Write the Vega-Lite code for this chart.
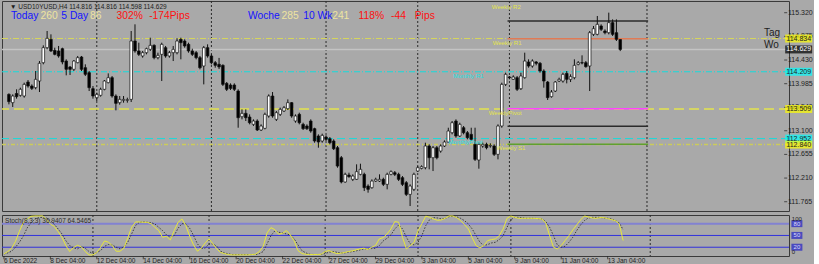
{
"$schema": "https://vega.github.io/schema/vega-lite/v6.json",
"background": "#a9a9a9",
"padding": 0,
"spacing": 1,
"config": {"view": {"stroke": "#3a3a3a", "strokeWidth": 1}, "text": {"font": "Liberation Sans"}},
"resolve": {"scale": {"x": "independent", "y": "independent"}},
"datasets": {
"candles": [
{"i":0,"o":113.784,"h":113.803,"l":113.596,"c":113.647},
{"i":1,"o":113.628,"h":113.784,"l":113.546,"c":113.753},
{"i":2,"o":113.800,"h":113.879,"l":113.703,"c":113.741},
{"i":3,"o":113.766,"h":113.910,"l":113.741,"c":113.879},
{"i":4,"o":113.753,"h":114.004,"l":113.722,"c":113.972},
{"i":5,"o":114.016,"h":114.054,"l":113.910,"c":113.941},
{"i":6,"o":113.941,"h":113.972,"l":113.866,"c":113.897},
{"i":7,"o":113.910,"h":114.223,"l":113.879,"c":114.067},
{"i":8,"o":114.035,"h":114.411,"l":113.828,"c":114.368},
{"i":9,"o":114.380,"h":114.706,"l":114.349,"c":114.662},
{"i":10,"o":114.662,"h":114.976,"l":114.631,"c":114.838},
{"i":11,"o":114.819,"h":114.913,"l":114.581,"c":114.600},
{"i":12,"o":114.612,"h":114.662,"l":114.518,"c":114.537},
{"i":13,"o":114.600,"h":114.694,"l":114.474,"c":114.506},
{"i":14,"o":114.643,"h":114.662,"l":114.349,"c":114.393},
{"i":15,"o":114.411,"h":114.443,"l":114.142,"c":114.255},
{"i":16,"o":114.299,"h":114.317,"l":114.148,"c":114.255},
{"i":17,"o":114.255,"h":114.430,"l":114.223,"c":114.411},
{"i":18,"o":114.380,"h":114.506,"l":114.368,"c":114.474},
{"i":19,"o":114.487,"h":114.506,"l":114.223,"c":114.255},
{"i":20,"o":114.286,"h":114.349,"l":114.129,"c":114.161},
{"i":21,"o":114.192,"h":114.223,"l":113.847,"c":113.910},
{"i":22,"o":113.891,"h":113.941,"l":113.703,"c":113.753},
{"i":23,"o":113.722,"h":113.816,"l":113.659,"c":113.784},
{"i":24,"o":113.766,"h":113.910,"l":113.741,"c":113.879},
{"i":25,"o":113.879,"h":114.054,"l":113.860,"c":114.035},
{"i":26,"o":114.004,"h":114.179,"l":113.991,"c":114.098},
{"i":27,"o":114.098,"h":114.129,"l":113.722,"c":113.753},
{"i":28,"o":113.753,"h":113.784,"l":113.483,"c":113.615},
{"i":29,"o":113.628,"h":113.753,"l":113.590,"c":113.690},
{"i":30,"o":113.672,"h":113.753,"l":113.628,"c":113.690},
{"i":31,"o":113.672,"h":113.722,"l":113.628,"c":113.684},
{"i":32,"o":113.690,"h":114.976,"l":113.640,"c":114.788},
{"i":33,"o":114.788,"h":115.101,"l":114.568,"c":114.600},
{"i":34,"o":114.600,"h":114.756,"l":114.506,"c":114.537},
{"i":35,"o":114.506,"h":114.600,"l":114.474,"c":114.568},
{"i":36,"o":114.568,"h":114.662,"l":114.537,"c":114.643},
{"i":37,"o":114.631,"h":114.850,"l":114.600,"c":114.706},
{"i":38,"o":114.706,"h":114.725,"l":114.443,"c":114.474},
{"i":39,"o":114.474,"h":114.568,"l":114.443,"c":114.518},
{"i":40,"o":114.537,"h":114.756,"l":114.035,"c":114.725},
{"i":41,"o":114.662,"h":114.694,"l":114.474,"c":114.506},
{"i":42,"o":114.506,"h":114.600,"l":114.474,"c":114.568},
{"i":43,"o":114.568,"h":114.694,"l":114.411,"c":114.631},
{"i":44,"o":114.568,"h":114.838,"l":114.537,"c":114.788},
{"i":45,"o":114.819,"h":114.850,"l":114.443,"c":114.756},
{"i":46,"o":114.788,"h":114.819,"l":114.662,"c":114.694},
{"i":47,"o":114.725,"h":114.756,"l":114.568,"c":114.600},
{"i":48,"o":114.600,"h":114.643,"l":114.506,"c":114.537},
{"i":49,"o":114.568,"h":114.600,"l":114.443,"c":114.474},
{"i":50,"o":114.474,"h":114.506,"l":114.255,"c":114.286},
{"i":51,"o":114.317,"h":114.694,"l":113.972,"c":114.662},
{"i":52,"o":114.662,"h":114.725,"l":114.474,"c":114.506},
{"i":53,"o":114.506,"h":114.537,"l":114.349,"c":114.380},
{"i":54,"o":114.380,"h":114.411,"l":114.286,"c":114.330},
{"i":55,"o":114.350,"h":114.470,"l":114.260,"c":114.300},
{"i":56,"o":114.330,"h":114.349,"l":113.941,"c":113.972},
{"i":57,"o":113.991,"h":114.016,"l":113.847,"c":113.879},
{"i":58,"o":113.960,"h":113.991,"l":113.866,"c":113.897},
{"i":59,"o":113.960,"h":113.991,"l":113.847,"c":113.879},
{"i":60,"o":113.847,"h":113.879,"l":113.157,"c":113.345},
{"i":61,"o":113.364,"h":113.502,"l":113.314,"c":113.427},
{"i":62,"o":113.427,"h":113.502,"l":113.283,"c":113.345},
{"i":63,"o":113.358,"h":113.408,"l":113.220,"c":113.251},
{"i":64,"o":113.220,"h":113.314,"l":113.189,"c":113.283},
{"i":65,"o":113.283,"h":113.314,"l":113.095,"c":113.114},
{"i":66,"o":113.114,"h":113.220,"l":113.095,"c":113.189},
{"i":67,"o":113.145,"h":113.440,"l":113.126,"c":113.408},
{"i":68,"o":113.377,"h":113.784,"l":113.345,"c":113.753},
{"i":69,"o":113.753,"h":113.828,"l":113.345,"c":113.377},
{"i":70,"o":113.314,"h":113.471,"l":113.283,"c":113.440},
{"i":71,"o":113.408,"h":113.534,"l":113.377,"c":113.502},
{"i":72,"o":113.471,"h":113.565,"l":113.452,"c":113.534},
{"i":73,"o":113.515,"h":113.690,"l":113.490,"c":113.628},
{"i":74,"o":113.628,"h":113.640,"l":113.345,"c":113.377},
{"i":75,"o":113.283,"h":113.408,"l":113.251,"c":113.377},
{"i":76,"o":113.408,"h":113.440,"l":113.220,"c":113.251},
{"i":77,"o":113.220,"h":113.251,"l":113.114,"c":113.139},
{"i":78,"o":113.189,"h":113.220,"l":113.114,"c":113.139},
{"i":79,"o":113.283,"h":113.314,"l":113.063,"c":113.095},
{"i":80,"o":113.139,"h":113.157,"l":112.875,"c":112.907},
{"i":81,"o":113.001,"h":113.032,"l":112.781,"c":112.888},
{"i":82,"o":112.907,"h":113.045,"l":112.875,"c":113.013},
{"i":83,"o":112.982,"h":113.013,"l":112.907,"c":112.938},
{"i":84,"o":112.951,"h":112.982,"l":112.844,"c":112.875},
{"i":85,"o":112.907,"h":112.938,"l":112.737,"c":112.762},
{"i":86,"o":112.781,"h":112.813,"l":112.405,"c":112.436},
{"i":87,"o":112.593,"h":112.625,"l":112.110,"c":112.136},
{"i":88,"o":112.136,"h":112.311,"l":112.123,"c":112.280},
{"i":89,"o":112.267,"h":112.311,"l":112.217,"c":112.236},
{"i":90,"o":112.186,"h":112.280,"l":112.154,"c":112.248},
{"i":91,"o":112.186,"h":112.468,"l":112.173,"c":112.330},
{"i":92,"o":112.280,"h":112.480,"l":112.261,"c":112.374},
{"i":93,"o":112.280,"h":112.311,"l":111.966,"c":112.029},
{"i":94,"o":112.060,"h":112.092,"l":111.935,"c":111.998},
{"i":95,"o":112.029,"h":112.186,"l":112.010,"c":112.154},
{"i":96,"o":112.154,"h":112.217,"l":112.136,"c":112.186},
{"i":97,"o":112.154,"h":112.280,"l":112.136,"c":112.186},
{"i":98,"o":112.186,"h":112.217,"l":112.060,"c":112.092},
{"i":99,"o":112.092,"h":112.311,"l":111.998,"c":112.280},
{"i":100,"o":112.280,"h":112.355,"l":112.261,"c":112.330},
{"i":101,"o":112.311,"h":112.342,"l":112.248,"c":112.280},
{"i":102,"o":112.280,"h":112.311,"l":112.154,"c":112.186},
{"i":103,"o":112.217,"h":112.248,"l":112.060,"c":112.092},
{"i":104,"o":112.123,"h":112.154,"l":111.872,"c":111.903},
{"i":105,"o":111.903,"h":112.092,"l":111.684,"c":112.060},
{"i":106,"o":111.998,"h":112.311,"l":111.966,"c":112.280},
{"i":107,"o":112.342,"h":112.436,"l":112.324,"c":112.405},
{"i":108,"o":112.392,"h":112.449,"l":112.374,"c":112.424},
{"i":109,"o":112.405,"h":112.875,"l":112.374,"c":112.813},
{"i":110,"o":112.813,"h":112.844,"l":112.374,"c":112.593},
{"i":111,"o":112.593,"h":112.813,"l":112.342,"c":112.781},
{"i":112,"o":112.781,"h":112.813,"l":112.562,"c":112.593},
{"i":113,"o":112.718,"h":112.844,"l":112.687,"c":112.813},
{"i":114,"o":112.813,"h":112.919,"l":112.794,"c":112.888},
{"i":115,"o":112.888,"h":113.157,"l":112.875,"c":113.095},
{"i":116,"o":113.063,"h":113.283,"l":113.032,"c":113.251},
{"i":117,"o":113.283,"h":113.314,"l":112.969,"c":113.001},
{"i":118,"o":113.001,"h":113.251,"l":112.982,"c":113.220},
{"i":119,"o":113.157,"h":113.189,"l":113.032,"c":113.063},
{"i":120,"o":113.063,"h":113.095,"l":112.938,"c":112.969},
{"i":121,"o":113.032,"h":113.157,"l":112.907,"c":112.938},
{"i":122,"o":112.844,"h":113.157,"l":112.531,"c":112.562},
{"i":123,"o":112.549,"h":112.875,"l":112.386,"c":112.844},
{"i":124,"o":112.813,"h":112.875,"l":112.781,"c":112.844},
{"i":125,"o":112.844,"h":112.875,"l":112.750,"c":112.781},
{"i":126,"o":112.813,"h":112.863,"l":112.781,"c":112.825},
{"i":127,"o":112.813,"h":112.844,"l":112.625,"c":112.656},
{"i":128,"o":112.656,"h":113.220,"l":112.562,"c":113.189},
{"i":129,"o":113.189,"h":114.004,"l":113.157,"c":113.972},
{"i":130,"o":113.972,"h":114.192,"l":113.941,"c":114.161},
{"i":131,"o":114.111,"h":114.129,"l":114.067,"c":114.098},
{"i":132,"o":114.067,"h":114.142,"l":114.054,"c":114.111},
{"i":133,"o":114.098,"h":114.129,"l":113.847,"c":113.879},
{"i":134,"o":113.891,"h":114.192,"l":113.866,"c":114.129},
{"i":135,"o":114.098,"h":114.568,"l":114.079,"c":114.411},
{"i":136,"o":114.393,"h":114.443,"l":114.286,"c":114.317},
{"i":137,"o":114.317,"h":114.443,"l":114.286,"c":114.411},
{"i":138,"o":114.393,"h":114.411,"l":114.330,"c":114.368},
{"i":139,"o":114.368,"h":114.393,"l":114.192,"c":114.223},
{"i":140,"o":114.223,"h":114.255,"l":113.910,"c":114.035},
{"i":141,"o":114.016,"h":114.035,"l":113.678,"c":113.722},
{"i":142,"o":113.741,"h":113.866,"l":113.722,"c":113.828},
{"i":143,"o":113.847,"h":114.035,"l":113.828,"c":114.016},
{"i":144,"o":114.035,"h":114.098,"l":114.016,"c":114.067},
{"i":145,"o":114.035,"h":114.192,"l":114.004,"c":114.161},
{"i":146,"o":114.179,"h":114.223,"l":113.991,"c":114.067},
{"i":147,"o":114.067,"h":114.161,"l":114.016,"c":114.117},
{"i":148,"o":114.098,"h":114.443,"l":114.067,"c":114.330},
{"i":149,"o":114.349,"h":114.411,"l":114.330,"c":114.380},
{"i":150,"o":114.380,"h":114.518,"l":114.349,"c":114.374},
{"i":151,"o":114.380,"h":114.411,"l":114.286,"c":114.305},
{"i":152,"o":114.317,"h":114.976,"l":113.847,"c":114.944},
{"i":153,"o":114.913,"h":115.070,"l":114.882,"c":115.019},
{"i":154,"o":114.913,"h":115.258,"l":114.894,"c":115.101},
{"i":155,"o":115.070,"h":115.101,"l":114.976,"c":115.007},
{"i":156,"o":114.976,"h":115.007,"l":114.913,"c":114.944},
{"i":157,"o":114.944,"h":115.321,"l":114.913,"c":115.133},
{"i":158,"o":115.133,"h":115.195,"l":114.882,"c":114.913},
{"i":159,"o":114.944,"h":115.195,"l":114.788,"c":114.819},
{"i":160,"o":114.816,"h":114.816,"l":114.598,"c":114.629}
],
"stoch": [
{"i":0,"k":3.1,"d":3},{"i":1,"k":9,"d":5.6},{"i":2,"k":17.5,"d":9.9},{"i":3,"k":35,"d":20},{"i":4,"k":60.6,"d":32.7},
{"i":5,"k":82.6,"d":47.9},{"i":6,"k":91.9,"d":69.1},{"i":7,"k":98.7,"d":81.8},{"i":8,"k":99.5,"d":91.9},{"i":9,"k":99.5,"d":95.3},
{"i":10,"k":99.8,"d":96},{"i":11,"k":90,"d":94.5},{"i":12,"k":79,"d":87.7},{"i":13,"k":73,"d":78.4},{"i":14,"k":59.8,"d":66.5},
{"i":15,"k":45.4,"d":53.8},{"i":16,"k":24.2,"d":36.9},{"i":17,"k":9,"d":24.2},{"i":18,"k":19.2,"d":18.3},{"i":19,"k":25,"d":15.8},
{"i":20,"k":20.8,"d":21.7},{"i":21,"k":9,"d":17.5},{"i":22,"k":0.5,"d":9},{"i":23,"k":0.5,"d":3.9},{"i":24,"k":6.5,"d":6.5},
{"i":25,"k":20,"d":11.5},{"i":26,"k":36,"d":22.5},{"i":27,"k":32.7,"d":26.8},{"i":28,"k":24.2,"d":25.9},{"i":29,"k":9.9,"d":20},
{"i":30,"k":9.9,"d":15.8},{"i":31,"k":17.5,"d":20.8},{"i":32,"k":43.7,"d":32.7},{"i":33,"k":70.8,"d":53.8},{"i":34,"k":84.3,"d":75},
{"i":35,"k":84.3,"d":83.5},{"i":36,"k":83.5,"d":84.3},{"i":37,"k":83.5,"d":83.5},{"i":38,"k":80,"d":82.6},{"i":39,"k":70.8,"d":79.2},
{"i":40,"k":62.3,"d":70.8},{"i":41,"k":45.4,"d":62.3},{"i":42,"k":47.9,"d":51.3},{"i":43,"k":38.6,"d":45.4},{"i":44,"k":62.3,"d":49.6},
{"i":45,"k":83.5,"d":68.2},{"i":46,"k":91.9,"d":80},{"i":47,"k":75,"d":79.2},{"i":48,"k":47.9,"d":68.2},{"i":49,"k":25.9,"d":49.6},
{"i":50,"k":9.9,"d":28.5},{"i":51,"k":17.5,"d":17.5},{"i":52,"k":31,"d":17.5},{"i":53,"k":41.2,"d":28.5},{"i":54,"k":28.5,"d":28.5},
{"i":55,"k":15.8,"d":22.5},{"i":56,"k":6.5,"d":9.9},{"i":57,"k":3.9,"d":5.6},{"i":58,"k":1.4,"d":3.1},{"i":59,"k":0.5,"d":1.4},
{"i":60,"k":0.5,"d":1.4},{"i":61,"k":0.5,"d":1.4},{"i":62,"k":0.5,"d":1.4},{"i":63,"k":0.5,"d":1.4},{"i":64,"k":1.4,"d":1.4},
{"i":65,"k":2.2,"d":1.4},{"i":66,"k":9,"d":3.9},{"i":67,"k":22.5,"d":9},{"i":68,"k":56.4,"d":28.5},{"i":69,"k":69.9,"d":49.6},
{"i":70,"k":64.8,"d":61.5},{"i":71,"k":53,"d":58.1},{"i":72,"k":55.5,"d":56.4},{"i":73,"k":62.3,"d":53.8},{"i":74,"k":51.3,"d":51.3},
{"i":75,"k":36,"d":41.2},{"i":76,"k":11.5,"d":25.9},{"i":77,"k":3.9,"d":11.5},{"i":78,"k":2.2,"d":5.6},{"i":79,"k":1.4,"d":2.2},
{"i":80,"k":1.4,"d":1.4},{"i":81,"k":1.4,"d":1.4},{"i":82,"k":2.2,"d":1.4},{"i":83,"k":9,"d":3.9},{"i":84,"k":11.5,"d":7.3},
{"i":85,"k":7.3,"d":9},{"i":86,"k":3.9,"d":7.3},{"i":87,"k":4.8,"d":5.6},{"i":88,"k":6.5,"d":5.6},{"i":89,"k":9,"d":7.3},
{"i":90,"k":10.7,"d":9},{"i":91,"k":13.2,"d":10.7},{"i":92,"k":15.8,"d":13.2},{"i":93,"k":17.5,"d":15.8},{"i":94,"k":14.1,"d":15.8},
{"i":95,"k":20,"d":16.6},{"i":96,"k":24.2,"d":17.5},{"i":97,"k":41.2,"d":24.2},{"i":98,"k":44.5,"d":36},{"i":99,"k":53.8,"d":42.9},
{"i":100,"k":66.5,"d":51.3},{"i":101,"k":85.2,"d":66.5},{"i":102,"k":83.5,"d":76.7},{"i":103,"k":45,"d":66.5},{"i":104,"k":15.8,"d":45.4},
{"i":105,"k":24.2,"d":28.5},{"i":106,"k":32.7,"d":25.9},{"i":107,"k":62,"d":32.7},{"i":108,"k":80,"d":49.6},{"i":109,"k":99,"d":75},
{"i":110,"k":96,"d":90.2},{"i":111,"k":92,"d":95.3},{"i":112,"k":88.5,"d":94.5},{"i":113,"k":89.4,"d":91.9},{"i":114,"k":93.6,"d":93.6},
{"i":115,"k":99.5,"d":97.8},{"i":116,"k":99.5,"d":98.7},{"i":117,"k":95.3,"d":97},{"i":118,"k":87.7,"d":93.6},{"i":119,"k":77.5,"d":87.7},
{"i":120,"k":66.5,"d":79.2},{"i":121,"k":44.5,"d":66.5},{"i":122,"k":24.2,"d":49.6},{"i":123,"k":18.3,"d":32.7},{"i":124,"k":24.2,"d":24.2},
{"i":125,"k":36.9,"d":26.8},{"i":126,"k":39.5,"d":31},{"i":127,"k":41.2,"d":32.7},{"i":128,"k":49.6,"d":39.5},{"i":129,"k":66.5,"d":49.6},
{"i":130,"k":93.6,"d":70.8},{"i":131,"k":99.5,"d":90.2},{"i":132,"k":96,"d":96},{"i":133,"k":93.6,"d":96},{"i":134,"k":93.6,"d":94.5},
{"i":135,"k":93.6,"d":93.6},{"i":136,"k":93.6,"d":93.6},{"i":137,"k":93.6,"d":93.6},{"i":138,"k":92.8,"d":92.8},{"i":139,"k":91.9,"d":91.9},
{"i":140,"k":81.8,"d":85.2},{"i":141,"k":49.6,"d":70.8},{"i":142,"k":20,"d":49.6},{"i":143,"k":15.8,"d":25.9},{"i":144,"k":24.2,"d":20},
{"i":145,"k":36.9,"d":22.5},{"i":146,"k":49.6,"d":32.7},{"i":147,"k":64,"d":45.4},{"i":148,"k":76.7,"d":62.3},{"i":149,"k":89.4,"d":76.7},
{"i":150,"k":99.5,"d":87.7},{"i":151,"k":97,"d":94.5},{"i":152,"k":94.5,"d":96},{"i":153,"k":93.6,"d":96},{"i":154,"k":95.3,"d":96},
{"i":155,"k":95.3,"d":94.5},{"i":156,"k":92.8,"d":93.6},{"i":157,"k":90.2,"d":91.9},{"i":158,"k":87.7,"d":87.7},{"i":159,"k":79.2,"d":81.8},
{"i":160,"k":36.94,"d":64.55}
],
"seps": [{"i":23},{"i":53},{"i":83},{"i":107},{"i":131},{"i":167}],
"yticks": [{"p":115.32,"t":"115.320"},{"p":114.875,"t":"114.875"},{"p":114.43,"t":"114.430"},{"p":113.985,"t":"113.985"},{"p":113.54,"t":"113.540"},{"p":113.1,"t":"113.100"},{"p":112.655,"t":"112.655"},{"p":112.21,"t":"112.210"},{"p":111.765,"t":"111.765"}],
"xticks": [
{"i":0,"t":"6 Dec 2022"},{"i":12,"t":"8 Dec 04:00"},{"i":24,"t":"12 Dec 04:00"},{"i":36,"t":"14 Dec 04:00"},{"i":48,"t":"16 Dec 04:00"},
{"i":60,"t":"20 Dec 04:00"},{"i":72,"t":"22 Dec 04:00"},{"i":84,"t":"27 Dec 04:00"},{"i":96,"t":"29 Dec 04:00"},{"i":108,"t":"3 Jan 04:00"},
{"i":120,"t":"5 Jan 04:00"},{"i":132,"t":"9 Jan 04:00"},{"i":144,"t":"11 Jan 04:00"},{"i":156,"t":"13 Jan 04:00"}
],
"levels": [
{"n":"d1","price":114.834},{"n":"cur","price":114.629},{"n":"m1","price":114.209},
{"n":"d2","price":113.509},{"n":"m2","price":112.952},{"n":"d3","price":112.840}
],
"weekly": [
{"n":"R2","price":115.164,"start":130.5,"end":167.3},
{"n":"R1","price":114.831,"start":130.5,"end":167.3},
{"n":"P","price":113.515,"start":130.5,"end":167.3},
{"n":"X","price":113.183,"start":130.5,"end":167.3},
{"n":"S1","price":112.845,"start":130.5,"end":167.3}
],
"plabels": [
{"bar":126.4,"price":115.427,"t":"Weekly R2","k":"w"},
{"bar":126.6,"price":114.750,"t":"Weekly R1","k":"w"},
{"bar":116.3,"price":114.130,"t":"Monthly R1","k":"m"},
{"bar":125.6,"price":113.436,"t":"WeeklyPivot","k":"w"},
{"bar":115.0,"price":112.891,"t":"MonthlyPivot","k":"m"},
{"bar":127.7,"price":112.776,"t":"Weekly S1","k":"w"}
],
"header": [
{"bar":0.53,"price":115.258,"t":"Today","k":"b"},
{"bar":8.29,"price":115.258,"t":"260","k":"n"},
{"bar":13.71,"price":115.258,"t":"5 Day","k":"b"},
{"bar":21.2,"price":115.258,"t":"86","k":"n"},
{"bar":28.18,"price":115.258,"t":"302%","k":"r"},
{"bar":36.7,"price":115.258,"t":"-174Pips","k":"r"},
{"bar":62.55,"price":115.258,"t":"Woche","k":"b"},
{"bar":71.33,"price":115.258,"t":"285","k":"n"},
{"bar":77.02,"price":115.258,"t":"10 Wk","k":"b"},
{"bar":84.6,"price":115.258,"t":"241","k":"n"},
{"bar":91.49,"price":115.258,"t":"118%","k":"r"},
{"bar":100.02,"price":115.258,"t":"-44","k":"r"},
{"bar":106.22,"price":115.258,"t":"Pips","k":"r"}
],
"symbol": [{"bar":0.28,"price":115.427,"t":"▼ USD10YUSD,H4  114.816 114.816 114.598 114.629"}],
"bigtext": [{"bar":197.6,"price":114.929,"t":"Tag"},{"bar":197.6,"price":114.721,"t":"Wo"}],
"tags": [
{"price":114.834,"t":"114.834","k":"y"},
{"price":114.629,"t":"114.629","k":"k"},
{"price":114.209,"t":"114.209","k":"c"},
{"price":113.509,"t":"113.509","k":"y"},
{"price":112.952,"t":"112.952","k":"c"},
{"price":112.840,"t":"112.840","k":"y"}
],
"slevels": [{"v":80},{"v":50},{"v":20}],
"saxis": [{"v":0,"t":"0"},{"v":100,"t":"100"}],
"stitle": [{"bar":0.3,"v":86.8,"t":"Stoch(8,3,3) 36.9407 64.5465"}]
},
"vconcat": [
{
"width": 787, "height": 210,
"layer": [
{"data": {"name": "seps"}, "mark": {"type": "rule", "color": "#2a2a2a", "strokeDash": [2,2], "strokeWidth": 1},
 "encoding": {"x": {"field": "i", "type": "quantitative", "scale": {"domain": [-0.5, 202.86], "nice": false, "zero": false}, "axis": null}}},
{"data": {"name": "levels"}, "transform": [{"filter": "datum.n == 'cur'"}], "mark": {"type": "rule", "color": "#c4c4c4", "strokeWidth": 1.5},
 "encoding": {"y": {"field": "price", "type": "quantitative", "scale": {"domain": [111.5905, 115.54], "nice": false, "zero": false}, "axis": null}}},
{"data": {"name": "levels"}, "transform": [{"filter": "datum.n == 'd1'"}], "mark": {"type": "rule", "color": "#d8d85a", "strokeWidth": 1, "strokeDash": [6,2,1,2]},
 "encoding": {"y": {"field": "price", "type": "quantitative", "axis": null}}},
{"data": {"name": "levels"}, "transform": [{"filter": "datum.n == 'm1'"}], "mark": {"type": "rule", "color": "#14dcdc", "strokeWidth": 1, "strokeDash": [6,2,1,2]},
 "encoding": {"y": {"field": "price", "type": "quantitative", "axis": null}}},
{"data": {"name": "levels"}, "transform": [{"filter": "datum.n == 'd2'"}], "mark": {"type": "rule", "color": "#e4e44e", "strokeWidth": 1.5, "strokeDash": [10,5]},
 "encoding": {"y": {"field": "price", "type": "quantitative", "axis": null}}},
{"data": {"name": "levels"}, "transform": [{"filter": "datum.n == 'm2'"}], "mark": {"type": "rule", "color": "#14dcdc", "strokeWidth": 1, "strokeDash": [8,4]},
 "encoding": {"y": {"field": "price", "type": "quantitative", "axis": null}}},
{"data": {"name": "levels"}, "transform": [{"filter": "datum.n == 'd3'"}], "mark": {"type": "rule", "color": "#cccc5a", "strokeWidth": 1.5, "strokeDash": [4,2,1,2]},
 "encoding": {"y": {"field": "price", "type": "quantitative", "axis": null}}},
{"data": {"name": "weekly"}, "mark": {"type": "rule", "strokeWidth": 1.5},
 "encoding": {"x": {"field": "start", "type": "quantitative", "axis": null}, "x2": {"field": "end"}, "y": {"field": "price", "type": "quantitative", "axis": null},
  "color": {"condition": [{"test": "datum.n == 'R1'", "value": "#e07a55"}, {"test": "datum.n == 'P'", "value": "#ff44ff"}, {"test": "datum.n == 'S1'", "value": "#5fa030"}], "value": "#2b2b2b"}}},
{"data": {"name": "candles"}, "mark": {"type": "rule", "color": "#111111", "strokeWidth": 1},
 "encoding": {"x": {"field": "i", "type": "quantitative", "axis": null}, "y": {"field": "l", "type": "quantitative", "axis": null}, "y2": {"field": "h"}}},
{"data": {"name": "candles"}, "mark": {"type": "bar", "width": 2.6, "stroke": "#111111", "strokeWidth": 0.7},
 "encoding": {"x": {"field": "i", "type": "quantitative", "axis": null}, "y": {"field": "o", "type": "quantitative", "axis": null}, "y2": {"field": "c"},
  "fill": {"condition": {"test": "datum.c < datum.o", "value": "#000000"}, "value": "#ffffff"}}},
{"data": {"name": "plabels"}, "mark": {"type": "text", "align": "left", "baseline": "middle", "fontSize": 6},
 "encoding": {"x": {"field": "bar", "type": "quantitative", "axis": null}, "y": {"field": "price", "type": "quantitative", "axis": null}, "text": {"field": "t"},
  "color": {"condition": {"test": "datum.k == 'm'", "value": "#22e0e0"}, "value": "#e4e44a"}}},
{"data": {"name": "header"}, "mark": {"type": "text", "align": "left", "baseline": "middle", "fontSize": 10.3},
 "encoding": {"x": {"field": "bar", "type": "quantitative", "axis": null}, "y": {"field": "price", "type": "quantitative", "axis": null}, "text": {"field": "t"},
  "color": {"condition": [{"test": "datum.k == 'b'", "value": "#1414ff"}, {"test": "datum.k == 'n'", "value": "#eee4a0"}], "value": "#ff1010"}}},
{"data": {"name": "symbol"}, "mark": {"type": "text", "align": "left", "baseline": "middle", "fontSize": 6.5, "color": "#1c1c1c"},
 "encoding": {"x": {"field": "bar", "type": "quantitative", "axis": null}, "y": {"field": "price", "type": "quantitative", "axis": null}, "text": {"field": "t"}}},
{"data": {"name": "bigtext"}, "mark": {"type": "text", "align": "left", "baseline": "middle", "fontSize": 10, "color": "#1e1e1e"},
 "encoding": {"x": {"field": "bar", "type": "quantitative", "axis": null}, "y": {"field": "price", "type": "quantitative", "axis": null}, "text": {"field": "t"}}},
{"data": {"name": "yticks"}, "mark": {"type": "tick", "orient": "horizontal", "size": 3, "thickness": 1, "color": "#1e1e1e"},
 "encoding": {"x": {"datum": 203.3, "type": "quantitative", "axis": null}, "y": {"field": "p", "type": "quantitative", "axis": null}}},
{"data": {"name": "yticks"}, "mark": {"type": "text", "align": "left", "baseline": "middle", "fontSize": 7, "color": "#1e1e1e"},
 "encoding": {"x": {"datum": 203.9, "type": "quantitative", "axis": null}, "y": {"field": "p", "type": "quantitative", "axis": null}, "text": {"field": "t"}}},
{"data": {"name": "tags"}, "mark": {"type": "tick", "orient": "horizontal", "size": 27, "thickness": 8},
 "encoding": {"x": {"datum": 206.7, "type": "quantitative", "axis": null}, "y": {"field": "price", "type": "quantitative", "axis": null},
  "color": {"condition": [{"test": "datum.k == 'y'", "value": "#ffff00"}, {"test": "datum.k == 'c'", "value": "#00ffff"}], "value": "#000000"}}},
{"data": {"name": "tags"}, "mark": {"type": "text", "align": "center", "baseline": "middle", "fontSize": 7},
 "encoding": {"x": {"datum": 206.7, "type": "quantitative", "axis": null}, "y": {"field": "price", "type": "quantitative", "axis": null}, "text": {"field": "t"},
  "color": {"condition": {"test": "datum.k == 'k'", "value": "#ffffff"}, "value": "#1e1e1e"}}}
]
},
{
"width": 787, "height": 41,
"layer": [
{"data": {"name": "seps"}, "mark": {"type": "rule", "color": "#2a2a2a", "strokeDash": [2,2], "strokeWidth": 1},
 "encoding": {"x": {"field": "i", "type": "quantitative", "scale": {"domain": [-0.5, 202.86], "nice": false, "zero": false}, "axis": null}}},
{"data": {"name": "slevels"}, "mark": {"type": "rule"},
 "encoding": {"y": {"field": "v", "type": "quantitative", "scale": {"domain": [-2.3, 102], "nice": false, "zero": false}, "axis": null},
  "color": {"condition": {"test": "datum.v == 80", "value": "#8282d2"}, "value": "#3030dc"},
  "strokeWidth": {"condition": {"test": "datum.v == 80", "value": 2}, "value": 1}}},
{"data": {"name": "stoch"}, "mark": {"type": "line", "color": "#3a3a3a", "strokeWidth": 1, "strokeDash": [1.5,1.5]},
 "encoding": {"x": {"field": "i", "type": "quantitative", "axis": null}, "y": {"field": "d", "type": "quantitative", "axis": null}}},
{"data": {"name": "stoch"}, "mark": {"type": "line", "color": "#e8e83a", "strokeWidth": 1},
 "encoding": {"x": {"field": "i", "type": "quantitative", "axis": null}, "y": {"field": "k", "type": "quantitative", "axis": null}}},
{"data": {"name": "stitle"}, "mark": {"type": "text", "align": "left", "baseline": "middle", "fontSize": 6.5, "color": "#2a2a2a"},
 "encoding": {"x": {"field": "bar", "type": "quantitative", "axis": null}, "y": {"field": "v", "type": "quantitative", "axis": null}, "text": {"field": "t"}}},
{"data": {"name": "slevels"}, "mark": {"type": "tick", "orient": "horizontal", "size": 11, "thickness": 7, "color": "#2424c8"},
 "encoding": {"x": {"datum": 204.9, "type": "quantitative", "axis": null}, "y": {"field": "v", "type": "quantitative", "axis": null}}},
{"data": {"name": "slevels"}, "mark": {"type": "text", "align": "center", "baseline": "middle", "fontSize": 6, "color": "#d8d8ff"},
 "encoding": {"x": {"datum": 204.9, "type": "quantitative", "axis": null}, "y": {"field": "v", "type": "quantitative", "axis": null}, "text": {"field": "v", "type": "quantitative"}}},
{"data": {"name": "saxis"}, "transform": [{"filter": "datum.v == 100"}], "mark": {"type": "text", "align": "left", "baseline": "top", "fontSize": 6, "color": "#1e1e1e"},
 "encoding": {"x": {"datum": 203.6, "type": "quantitative", "axis": null}, "y": {"field": "v", "type": "quantitative", "axis": null}, "text": {"field": "t"}}},
{"data": {"name": "saxis"}, "transform": [{"filter": "datum.v == 0"}], "mark": {"type": "text", "align": "left", "baseline": "bottom", "fontSize": 6, "color": "#1e1e1e"},
 "encoding": {"x": {"datum": 203.6, "type": "quantitative", "axis": null}, "y": {"field": "v", "type": "quantitative", "axis": null}, "text": {"field": "t"}}},
{"data": {"name": "xticks"}, "mark": {"type": "tick", "orient": "vertical", "size": 3, "thickness": 1, "color": "#1e1e1e"},
 "encoding": {"x": {"field": "i", "type": "quantitative", "axis": null}, "y": {"datum": -6.5, "type": "quantitative", "axis": null}}},
{"data": {"name": "xticks"}, "mark": {"type": "text", "align": "left", "baseline": "middle", "fontSize": 6.5, "color": "#1e1e1e"},
 "encoding": {"x": {"field": "i", "type": "quantitative", "axis": null}, "y": {"datum": -15, "type": "quantitative", "axis": null}, "text": {"field": "t"}}}
]
}
]
}
